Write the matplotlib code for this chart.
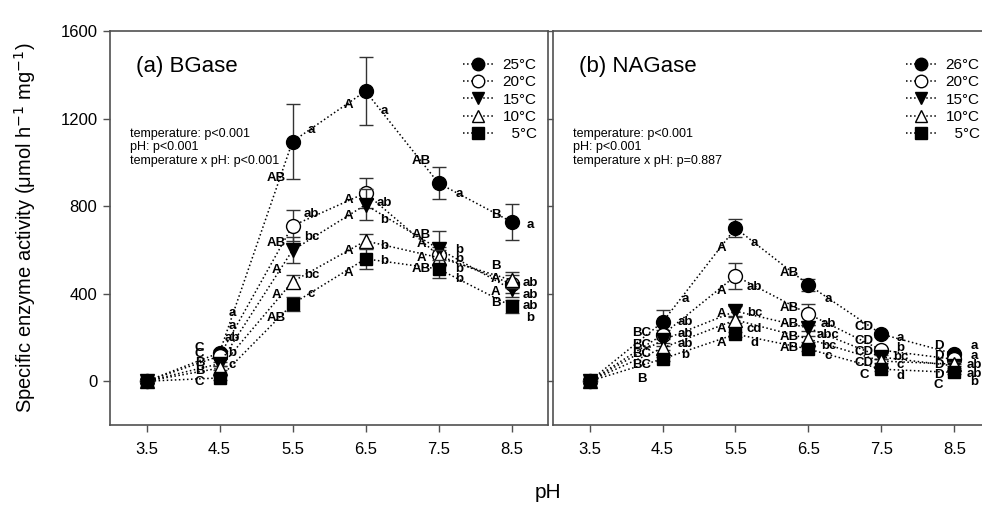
import matplotlib
matplotlib.use("Agg")
import matplotlib.pyplot as plt
from matplotlib.lines import Line2D

plt.rcParams["font.family"] = ["Liberation Sans", "DejaVu Sans"]

ph = [3.5, 4.5, 5.5, 6.5, 7.5, 8.5]

# (a) BGase
bg_temps = ["25°C", "20°C", "15°C", "10°C", "  5°C"]
bg_mean = [
    [0, 130, 1095, 1325, 905, 728],
    [0, 115, 710, 860, 575, 445],
    [0, 80, 598, 806, 605, 420],
    [0, 60, 455, 641, 565, 462],
    [0, 15, 353, 559, 513, 343],
]
bg_err = [
    [5, 12, 170, 155, 73, 82],
    [5, 10, 70, 70, 40, 40],
    [5, 10, 60, 70, 80, 35],
    [5, 8, 28, 30, 35, 35],
    [5, 8, 30, 45, 40, 30],
]
bg_upper = [
    ["", "C", "AB", "A", "AB", "B"],
    ["", "C", "AB", "A", "AB", "B"],
    ["", "B", "A", "A", "A", "A"],
    ["", "B", "A", "A", "A", "A"],
    ["", "C", "AB", "A", "AB", "B"],
]
bg_lower = [
    ["", "a", "a", "a", "a", "a"],
    ["", "a", "ab", "ab", "b", "ab"],
    ["", "ab", "bc", "b", "b", "ab"],
    ["", "b", "bc", "b", "b", "ab"],
    ["", "c", "c", "b", "b", "b"],
]
bg_stats = "temperature: p<0.001\npH: p<0.001\ntemperature x pH: p<0.001"

# (b) NAGase
nag_temps = ["26°C", "20°C", "15°C", "10°C", "  5°C"]
nag_mean = [
    [0, 270, 700, 440, 215, 125],
    [0, 212, 481, 307, 142, 100],
    [0, 188, 320, 243, 110, 70],
    [0, 152, 280, 193, 92, 78],
    [0, 102, 215, 147, 55, 40],
]
nag_err = [
    [5, 55, 40, 28, 12, 10],
    [5, 20, 60, 48, 12, 10],
    [5, 12, 22, 15, 10, 8],
    [5, 10, 15, 12, 8, 8],
    [5, 10, 12, 10, 8, 8],
]
nag_upper = [
    ["", "BC", "A", "AB", "CD", "D"],
    ["", "BC", "A", "AB", "CD", "D"],
    ["", "BC", "A", "AB", "CD", "D"],
    ["", "BC", "A", "AB", "CD", "D"],
    ["", "B", "A", "AB", "C", "C"],
]
nag_lower = [
    ["", "a", "a", "a", "a", "a"],
    ["", "ab", "ab", "ab", "b", "a"],
    ["", "ab", "bc", "abc", "bc", "ab"],
    ["", "ab", "cd", "bc", "c", "ab"],
    ["", "b", "d", "c", "d", "b"],
]
nag_stats = "temperature: p<0.001\npH: p<0.001\ntemperature x pH: p=0.887"

# letter placement (pixel offsets from each marker)
bg_up_dx = [0, -20, -16, -17, -17, -16]
bg_lo_dx = [0, 13, 19, 19, 21, 19]
bg_up_dy = [
    [0, 5, -36, -14, 22, 7],
    [0, 2, -17, -7, 20, 18],
    [0, 1, -20, -11, 5, 10],
    [0, -3, -13, -10, 0, -12],
    [0, -4, -14, -14, 0, 3],
]
bg_lo_dy = [
    [0, 40, 12, -20, -11, -3],
    [0, 30, 12, -10, 5, 1],
    [0, 26, 13, -15, -10, -6],
    [0, 15, 7, -5, -11, -26],
    [0, 13, 10, -2, -10, -12],
]
nag_up_dx = [0, -21, -14, -19, -17, -16]
nag_lo_dx = [0, 23, 19, 20, 19, 20]
nag_up_dy = [
    [0, -11, -20, 12, 7, 8],
    [0, -10, -15, 6, 9, 3],
    [0, -14, -3, 4, 5, 1],
    [0, -17, -9, 2, -2, -11],
    [0, -20, -9, 1, -6, -13],
]
nag_lo_dy = [
    [0, 23, -15, -14, -4, 8],
    [0, 13, -11, -10, 2, 3],
    [0, 6, -2, -7, 0, 1],
    [0, 4, -9, -7, -4, -10],
    [0, 4, -9, -7, -7, -10],
]

markers = ["o", "o", "v", "^", "s"]
faces = ["black", "white", "black", "white", "black"]
sizes = [10, 10, 10, 10, 9]
spine_col = "#505050"


def draw_panel(ax, title, temps, means, errs, upper, lower, stats,
               up_dx, lo_dx, up_dy, lo_dy, left_labels=True):
    for i in range(len(temps)):
        ax.errorbar(ph, means[i], yerr=errs[i], color="black", ls=":", lw=1.1,
                    marker=markers[i], mfc=faces[i], mec="black", ms=sizes[i],
                    ecolor="#333333", elinewidth=1, capsize=5, capthick=1,
                    zorder=3 + i)
        for j in range(1, len(ph)):
            ax.annotate(upper[i][j], (ph[j], means[i][j]),
                        xytext=(up_dx[j], up_dy[i][j]), textcoords="offset pixels",
                        ha="center", va="center", fontsize=9.5, fontweight="bold",
                        zorder=10)
            ax.annotate(lower[i][j], (ph[j], means[i][j]),
                        xytext=(lo_dx[j], lo_dy[i][j]), textcoords="offset pixels",
                        ha="center", va="center", fontsize=9.5, fontweight="bold",
                        zorder=10)

    ax.set_xlim(3, 9)
    ax.set_ylim(-200, 1600)
    ax.set_xticks(ph)
    ax.set_xticklabels([f"{v:.1f}" for v in ph])
    ax.set_yticks([0, 400, 800, 1200, 1600])
    ax.tick_params(direction="out", length=5, width=1, color=spine_col,
                   labelsize=12, pad=7)
    ax.tick_params(axis="y", pad=4)
    if not left_labels:
        ax.tick_params(axis="y", labelleft=False, length=4)
    for s in ax.spines.values():
        s.set_color(spine_col)
        s.set_linewidth(1.2)

    ax.text(0.06, 0.91, title, transform=ax.transAxes, fontsize=16,
            ha="left", va="center")
    ax.text(0.045, 0.705, stats, transform=ax.transAxes, fontsize=9,
            ha="left", va="center", linespacing=1.15)

    handles = [Line2D([0], [0], color="black", ls=":", lw=1.1, marker=markers[i],
                      mfc=faces[i], mec="black", ms=sizes[i] - 1)
               for i in range(len(temps))]
    ax.legend(handles, temps, loc="upper right", bbox_to_anchor=(0.995, 0.955),
              frameon=False, fontsize=11, handlelength=2.0, handletextpad=0.6,
              labelspacing=0.22, borderaxespad=0.2)


fig = plt.figure(figsize=(9.82, 5.09), dpi=100)
ax1 = fig.add_axes([110 / 982, 1 - 425 / 509, 438 / 982, 394 / 509])
ax2 = fig.add_axes([553 / 982, 1 - 425 / 509, 438 / 982, 394 / 509])

draw_panel(ax1, "(a) BGase", bg_temps, bg_mean, bg_err, bg_upper, bg_lower,
           bg_stats, bg_up_dx, bg_lo_dx, bg_up_dy, bg_lo_dy)
draw_panel(ax2, "(b) NAGase", nag_temps, nag_mean, nag_err, nag_upper, nag_lower,
           nag_stats, nag_up_dx, nag_lo_dx, nag_up_dy, nag_lo_dy, left_labels=False)

ax1.set_ylabel("Specific enzyme activity (μmol h$^{-1}$ mg$^{-1}$)", fontsize=14.5,
               labelpad=16)
fig.text(548 / 982, 1 - 492 / 509, "pH", fontsize=15, ha="center", va="center")

fig.savefig("out.png", dpi=100)
